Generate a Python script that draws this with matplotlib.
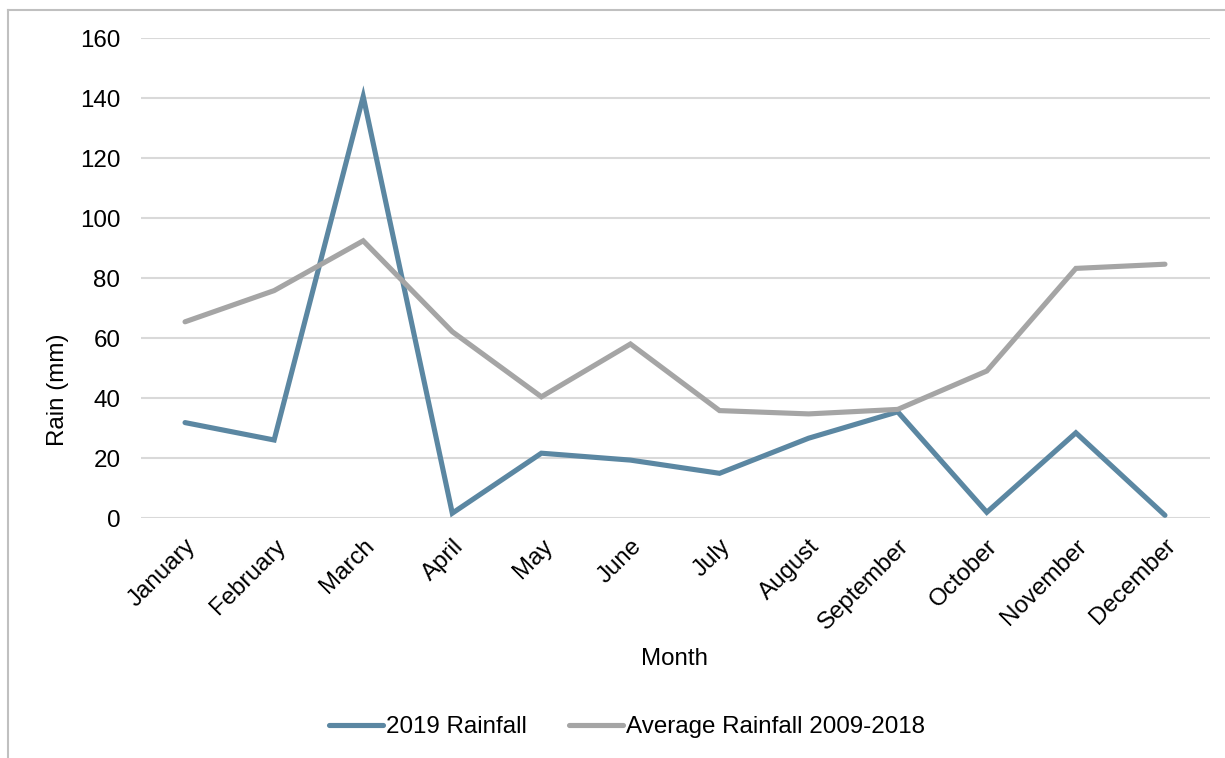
import matplotlib.pyplot as plt
from matplotlib.lines import Line2D

plt.rcParams['font.family'] = ['Liberation Sans', 'DejaVu Sans']

months = ["January", "February", "March", "April", "May", "June",
          "July", "August", "September", "October", "November", "December"]
rain_2019 = [31.9, 26.1, 140.6, 1.7, 21.7, 19.4, 15.0, 26.7, 35.5, 2.0, 28.5, 1.0]
rain_avg = [65.5, 75.9, 92.5, 62.2, 40.5, 58.1, 35.9, 34.8, 36.3, 49.1, 83.3, 84.7]
yticks = [0, 20, 40, 60, 80, 100, 120, 140, 160]

FS = 17.4
W, H = 1225, 758
fig = plt.figure(figsize=(W / 100, H / 100), dpi=100)
ax = fig.add_axes([140.5 / W, 1 - 518.3 / H, 1069 / W, 480 / H])

x = list(range(len(months)))
ax.plot(x, rain_2019, color='#5B87A2', lw=3.7, solid_capstyle='round',
        solid_joinstyle='miter', label='2019 Rainfall', zorder=3)
ax.plot(x, rain_avg, color='#A5A5A5', lw=3.7, solid_capstyle='round',
        solid_joinstyle='miter', label='Average Rainfall 2009-2018', zorder=3)

ax.set_xlim(-0.5, len(months) - 0.5)
ax.set_ylim(0, 160)
ax.set_yticks(yticks)
ax.set_yticklabels([str(v) for v in yticks], fontsize=FS)
ax.grid(axis='y', color='#D9D9D9', lw=1.5)
ax.set_axisbelow(True)
for s in ax.spines.values():
    s.set_visible(False)
ax.tick_params(axis='both', length=0)
ax.tick_params(axis='y', pad=14.5)

ax.set_xticks(x)
ax.set_xticklabels(months, fontsize=FS, rotation=45, ha='right',
                   va='top', rotation_mode='anchor')
ax.tick_params(axis='x', pad=12)

fig.text(58 / W, 1 - 390 / H, 'Rain (mm)', rotation=90, fontsize=FS,
         ha='center', va='center')
fig.text(675 / W, 1 - 659 / H, 'Month', fontsize=FS, ha='center', va='center')

fig.legend(loc='center', bbox_to_anchor=(627 / W, 1 - 727 / H), ncol=2,
           frameon=False, fontsize=FS, handlelength=2.25, handletextpad=0.12,
           columnspacing=1.75)

# thin frame on the left and top edges
fig.add_artist(Line2D([8 / W, 8 / W], [0, 1 - 10 / H], color='#C0C0C0', lw=1.5,
                      transform=fig.transFigure))
fig.add_artist(Line2D([8 / W, 1], [1 - 10 / H, 1 - 10 / H], color='#C0C0C0', lw=1.5,
                      transform=fig.transFigure))

fig.savefig('out.png', dpi=100, facecolor='white')
